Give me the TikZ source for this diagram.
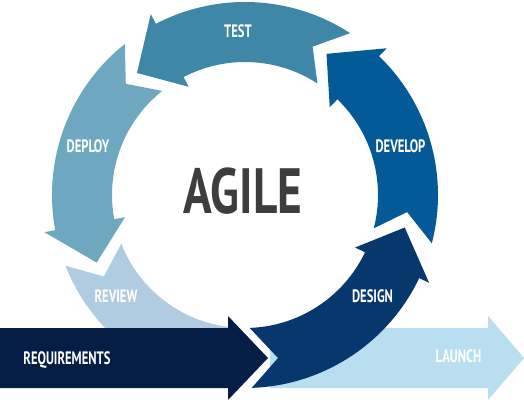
\documentclass[tikz,border=0pt]{standalone}
\usepackage{fontspec}
\newfontfamily\condfont[FakeStretch=0.7]{PT Sans}
\newfontfamily\agilefont[FakeStretch=0.74]{PT Sans}
\definecolor{reqnavy}{HTML}{041E46}
\definecolor{designblue}{HTML}{06386E}
\definecolor{developblue}{HTML}{045A96}
\definecolor{testblue}{HTML}{3E87A6}
\definecolor{deployblue}{HTML}{6EA8C0}
\definecolor{reviewblue}{HTML}{B0CCE0}
\definecolor{launchblue}{HTML}{B8DEF0}
\begin{document}
\begin{tikzpicture}[x=1pt, y=1pt,
    lbl/.style={text=white, inner sep=0pt, text depth=0pt,
        font=\condfont\bfseries\fontsize{18}{18}\selectfont}]
            \useasboundingbox (-245,-209) rectangle (279,195);
            \coordinate (O) at (0,0);

            % Review (lies under the requirements arrow)
            \fill[reviewblue] (201.5:193) -- (210:163) -- (201.5:133)
                arc[start angle=201.5, end angle=266, radius=133] -- (266:193)
                arc[start angle=266, end angle=201.5, radius=193] -- cycle;

            % Launch arrow
            \fill[launchblue] (25,-133) -- (243,-133) -- (243,-121) -- (279,-163)
                -- (243,-205) -- (243,-193) -- (25,-193) -- cycle;

            % Requirements arrow
            \fill[reqnavy] (-245,-133) -- (-17,-133) -- (-17,-121) -- (23,-163)
                -- (-17,-205) -- (-17,-193) -- (-245,-193) -- cycle;

            % Design
            \fill[designblue] (-88:193) -- (33,-163) -- (-88:133)
                arc[start angle=-88, end angle=-25.5, radius=133] -- (-25.5:122)
                -- (-11.5:163) -- (-25.5:204) -- (-25.5:193)
                arc[start angle=-25.5, end angle=-88, radius=193] -- cycle;

            % Develop
            \fill[developblue] (-14.5:193) -- (-6:163) -- (-14.5:133)
                arc[start angle=-14.5, end angle=46, radius=133] -- (46:122)
                -- (60:163) -- (46:204) -- (46:193)
                arc[start angle=46, end angle=-14.5, radius=193] -- cycle;

            % Test
            \fill[testblue] (57:193) -- (65.5:163) -- (57:133)
                arc[start angle=57, end angle=117.5, radius=133] -- (117.5:122)
                -- (131.5:163) -- (117.5:204) -- (117.5:193)
                arc[start angle=117.5, end angle=57, radius=193] -- cycle;

            % Deploy
            \fill[deployblue] (128.5:193) -- (137:163) -- (128.5:133)
                arc[start angle=128.5, end angle=190.5, radius=133] -- (190.5:122)
                -- (204.5:163) -- (190.5:204) -- (190.5:193)
                arc[start angle=190.5, end angle=128.5, radius=193] -- cycle;

            % Labels
            \node[lbl] (test) at (-7,164) {TEST};
            \node[lbl] (deploy) at (-157,48.5) {DEPLOY};
            \node[lbl] (develop) at (155.5,49) {DEVELOP};
            \node[lbl] (review) at (-129,-101) {REVIEW};
            \node[lbl] (design) at (127.5,-101) {DESIGN};
            \node[lbl] (requirements) at (-178,-163) {REQUIREMENTS};
            \node[lbl] (launch) at (213.5,-161) {LAUNCH};
            \node[text=black!76, inner sep=0pt, text depth=0pt,
                font=\agilefont\bfseries\fontsize{64}{64}\selectfont] (agile) at (-2,4.5) {AGILE};
        \end{tikzpicture}
\end{document}
